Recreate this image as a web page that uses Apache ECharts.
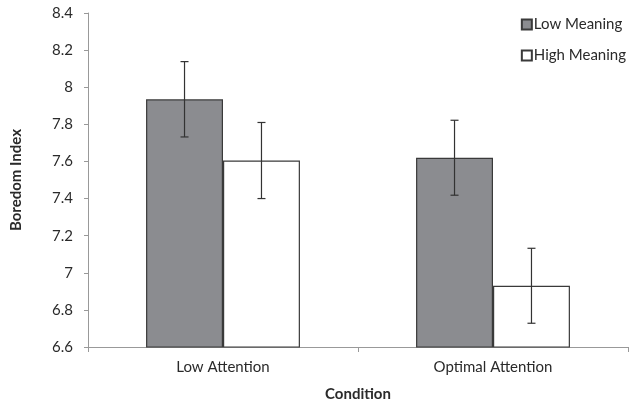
<!DOCTYPE html>
<html>
<head>
<meta charset="utf-8">
<script src="https://cdn.jsdelivr.net/npm/echarts@6/dist/echarts.min.js"></script>
<style>
  html, body { margin: 0; padding: 0; background: #fff; }
  #main { width: 633px; height: 404px; }
</style>
</head>
<body>
<div id="main"></div>
<script>
// data
var categories = ['Low Attention', 'Optimal Attention'];
var lowMeaning = [7.935, 7.62];
var highMeaning = [7.605, 6.93];
var lowMeaningErr = [0.203, 0.202];
var highMeaningErr = [0.205, 0.202];
var yTicks = { min: 6.6, max: 8.4, step: 0.2 };

var FONT = 'Lato';
var BAR_PCT = 0.285;

function errData(vals, errs) {
  var out = [];
  for (var i = 0; i < vals.length; i++) {
    out.push([i, vals[i], errs[i]]);
  }
  return out;
}

// side: -1 left bar, +1 right bar
function makeErrRender(side) {
  return function (params, api) {
    var cat = api.value(0);
    var v = api.value(1);
    var e = api.value(2);
    var band = api.size([1, 0])[0];
    var off = side * band * BAR_PCT / 2;
    var top = api.coord([cat, v + e]);
    var bot = api.coord([cat, v - e]);
    var x = top[0] + off;
    var cap = 4;
    var style = { stroke: '#333', lineWidth: 1.2 };
    return {
      type: 'group',
      children: [
        { type: 'line', shape: { x1: x, y1: top[1], x2: x, y2: bot[1] }, style: style },
        { type: 'line', shape: { x1: x - cap, y1: top[1], x2: x + cap, y2: top[1] }, style: style },
        { type: 'line', shape: { x1: x - cap, y1: bot[1], x2: x + cap, y2: bot[1] }, style: style }
      ]
    };
  };
}

var chart = echarts.init(document.getElementById('main'));
chart.setOption({
  backgroundColor: '#fff',
  animation: false,
  textStyle: { fontFamily: FONT },
  grid: { left: 88, right: 5, top: 13, bottom: 57, outerBoundsMode: 'none', containLabel: false },
  legend: {
    orient: 'vertical',
    right: 2,
    top: 12,
    itemGap: 16,
    itemWidth: 10,
    itemHeight: 10,
    textStyle: { fontFamily: FONT, fontSize: 15, color: '#2a2a2a', padding: [0, 0, 0, -3] },
    data: [
      { name: 'Low Meaning', icon: 'rect' },
      { name: 'High Meaning', icon: 'rect' }
    ]
  },
  xAxis: {
    type: 'category',
    data: categories,
    name: 'Condition',
    nameLocation: 'middle',
    nameGap: 40,
    nameTextStyle: { fontFamily: FONT, fontWeight: 'bold', fontSize: 15, color: '#2a2a2a' },
    axisLine: { lineStyle: { color: '#999', width: 1 } },
    axisTick: { show: true, length: 5, lineStyle: { color: '#999' } },
    axisLabel: { fontFamily: FONT, fontSize: 15, color: '#2a2a2a', margin: 13 }
  },
  yAxis: {
    type: 'value',
    min: yTicks.min,
    max: yTicks.max,
    interval: yTicks.step,
    name: 'Boredom Index',
    nameLocation: 'middle',
    nameGap: 64,
    nameTextStyle: { fontFamily: FONT, fontWeight: 'bold', fontSize: 15, color: '#2a2a2a' },
    splitLine: { show: false },
    axisLine: { show: true, lineStyle: { color: '#999', width: 1 } },
    axisTick: { show: true, length: 4, lineStyle: { color: '#999' } },
    axisLabel: {
      fontFamily: FONT, fontSize: 15, color: '#2a2a2a', margin: 15,
      formatter: function (v) { return String(Math.round(v * 10) / 10); }
    }
  },
  series: [
    {
      name: 'Low Meaning',
      type: 'bar',
      data: lowMeaning,
      barWidth: (BAR_PCT * 100) + '%',
      barGap: '0%',
      itemStyle: { color: '#8b8c90', borderColor: '#3a3a3a', borderWidth: 1.2 }
    },
    {
      name: 'High Meaning',
      type: 'bar',
      data: highMeaning,
      barWidth: (BAR_PCT * 100) + '%',
      barGap: '0%',
      itemStyle: { color: '#ffffff', borderColor: '#3a3a3a', borderWidth: 1.2 }
    },
    {
      name: 'errLow',
      type: 'custom',
      renderItem: makeErrRender(-1),
      data: errData(lowMeaning, lowMeaningErr),
      z: 10,
      silent: true
    },
    {
      name: 'errHigh',
      type: 'custom',
      renderItem: makeErrRender(1),
      data: errData(highMeaning, highMeaningErr),
      z: 10,
      silent: true
    }
  ]
});
</script>
</body>
</html>
